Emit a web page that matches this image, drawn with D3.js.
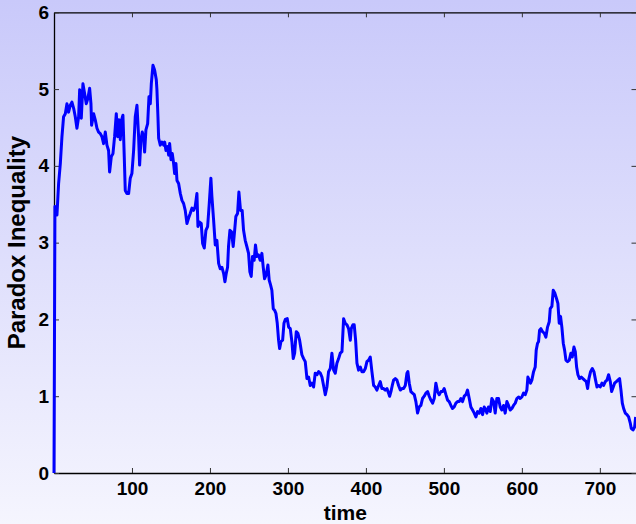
<!DOCTYPE html>
<html>
<head>
<meta charset="utf-8">
<script src="https://cdn.jsdelivr.net/npm/d3@7"></script>
<style>
  html, body { margin: 0; padding: 0; background: #ffffff; }
  svg { display: block; }
  text { font-family: "Liberation Sans", Arial, sans-serif; font-weight: bold; }
</style>
</head>
<body>
<div id="diagram_paradox"></div>
<script>
//****************************************************************************
//Data

const times = [0, 1.2, 3.8, 5.9, 8.1, 10.2, 12.3, 14.5, 16.6, 18.7, 20.9, 23.0, 25.2, 27.3, 29.4, 31.6, 32.9, 35.0, 37.1, 39.3,
  41.4, 43.5, 45.7, 47.4, 48.2, 50.8, 52.9, 55.1, 57.2, 59.4, 61.5, 63.6, 65.8, 67.9, 70.0, 71.3, 73.5, 75.6, 77.7, 79.9,
  81.6, 83.3, 85.0, 86.7, 88.4, 90.1, 91.4, 93.5, 95.7, 97.8, 99.9, 102.1, 104.2, 106.4, 108.5, 109.8, 111.5, 113.2, 114.9, 116.2,
  117.9, 120.1, 121.8, 123.5, 124.8, 126.9, 129.0, 131.2, 132.0, 133.3, 134.2, 136.3, 138.4, 140.6, 141.9, 143.6, 145.7, 147.0, 148.3, 150.0,
  151.7, 153.4, 154.7, 156.4, 157.7, 159.8, 162.0, 164.1, 166.2, 168.3, 170.5, 172.6, 174.7, 176.9, 179.0, 181.1, 183.3, 184.6, 186.3, 188.8,
  190.6, 192.7, 194.8, 197.0, 199.1, 201.2, 202.5, 204.7, 206.8, 208.9, 211.1, 213.2, 215.3, 217.5, 219.2, 220.9, 222.6, 223.8, 225.6, 227.7,
  229.8, 231.5, 233.2, 235.4, 237.1, 239.2, 241.3, 243.1, 245.2, 247.3, 249.5, 251.2, 252.9, 254.6, 256.7, 258.4, 260.2, 262.3, 264.4, 266.6,
  268.3, 270.0, 272.1, 274.3, 276.0, 277.7, 279.4, 281.2, 282.9, 284.6, 286.3, 288.0, 289.3, 291.0, 293.2, 294.9, 296.6, 299.1, 300.9, 303.0,
  305.1, 306.8, 308.6, 310.7, 312.8, 315.0, 317.9, 320.1, 322.2, 324.4, 326.5, 328.6, 330.8, 332.9, 335.0, 337.2, 339.3, 341.5, 343.6, 345.7,
  347.9, 350.0, 352.1, 354.3, 356.4, 358.6, 360.7, 362.8, 365.0, 367.1, 369.3, 371.4, 373.5, 375.7, 377.8, 380.0, 381.2, 383.3, 385.0, 386.8,
  388.5, 390.6, 392.8, 394.9, 397.0, 399.2, 401.3, 403.4, 405.6, 407.7, 409.9, 412.0, 414.1, 416.3, 418.4, 420.5, 422.7, 424.8, 427.0, 429.1,
  430.4, 432.1, 433.8, 435.5, 437.7, 439.8, 441.9, 444.1, 446.2, 448.3, 450.5, 452.6, 453.8, 455.6, 457.7, 459.8, 462.0, 464.1, 466.2, 468.4,
  470.5, 472.6, 474.8, 476.9, 479.1, 481.2, 483.3, 485.5, 487.6, 489.7, 491.9, 494.0, 496.2, 498.3, 500.4, 502.6, 504.7, 506.8, 509.0, 511.1,
  513.2, 515.4, 517.5, 519.7, 521.8, 523.9, 526.1, 528.2, 530.3, 532.5, 534.6, 536.8, 538.9, 541.0, 543.2, 545.3, 547.4, 549.6, 551.7, 553.0,
  555.1, 557.2, 559.4, 561.5, 563.7, 565.8, 567.9, 570.1, 572.2, 574.3, 576.5, 578.6, 580.8, 582.9, 585.0, 587.2, 589.3, 591.5, 593.6, 595.7,
  597.9, 600.0, 602.1, 604.3, 606.4, 607.7, 609.4, 611.1, 612.8, 615.0, 617.1, 618.4, 620.1, 621.4, 622.7, 624.4, 626.5, 628.7, 630.8, 632.9,
  635.1, 636.4, 638.5, 640.2, 642.4, 644.5, 646.2, 647.9, 649.6, 651.3, 653.1, 654.8, 656.5, 658.6, 660.8, 662.9, 664.6, 666.8, 668.5, 670.2,
  671.9, 674.0, 676.2, 678.3, 680.4, 682.6, 684.3, 686.0, 688.1, 690.3, 692.4, 694.5, 696.3, 698.4, 700.5, 702.7, 704.8, 707.0, 709.1, 711.2,
  713.4, 715.1, 717.2, 718.9, 721.1, 723.2, 725.3, 727.1, 728.8, 730.5, 732.6, 734.8, 736.9, 739.0, 740.3, 742.5, 744.6, 745.9]

const values = [0, 3.47, 3.36, 3.77, 4.03, 4.38, 4.64, 4.68, 4.81, 4.70, 4.79, 4.83, 4.75, 4.64, 4.49, 4.64, 4.99, 4.62, 5.07, 4.94,
  4.81, 4.88, 5.01, 4.81, 4.53, 4.68, 4.60, 4.49, 4.44, 4.42, 4.38, 4.29, 4.44, 4.27, 4.20, 3.92, 4.12, 4.16, 4.38, 4.68,
  4.38, 4.60, 4.34, 4.60, 4.66, 4.12, 3.68, 3.64, 3.64, 3.84, 3.90, 4.20, 4.64, 4.79, 4.38, 4.01, 4.34, 4.44, 4.38, 4.18,
  4.47, 4.55, 4.90, 4.81, 5.07, 5.31, 5.25, 5.12, 4.99, 4.64, 4.36, 4.27, 4.31, 4.27, 4.31, 4.20, 4.25, 4.14, 4.29, 4.08,
  4.16, 4.03, 3.90, 4.03, 3.81, 3.77, 3.64, 3.55, 3.51, 3.42, 3.25, 3.32, 3.38, 3.45, 3.42, 3.47, 3.64, 3.21, 3.27, 3.25,
  2.99, 2.93, 3.16, 3.21, 3.51, 3.84, 3.60, 3.29, 2.97, 3.03, 2.73, 2.66, 2.68, 2.60, 2.49, 2.60, 2.68, 2.95, 3.16, 3.14,
  2.95, 3.14, 3.34, 3.38, 3.66, 3.42, 3.42, 3.16, 3.03, 2.95, 2.86, 2.62, 2.56, 2.82, 2.77, 2.97, 2.82, 2.84, 2.77, 2.86,
  2.68, 2.53, 2.58, 2.71, 2.51, 2.45, 2.38, 2.14, 2.12, 2.08, 1.95, 1.73, 1.62, 1.71, 1.73, 1.95, 2.00, 2.01, 1.90, 1.88,
  1.71, 1.49, 1.56, 1.84, 1.82, 1.73, 1.54, 1.49, 1.45, 1.23, 1.25, 1.14, 1.17, 1.12, 1.30, 1.28, 1.32, 1.30, 1.25, 1.14,
  1.02, 1.12, 1.32, 1.36, 1.56, 1.34, 1.30, 1.43, 1.49, 1.56, 1.58, 2.01, 1.95, 1.93, 1.88, 1.73, 1.88, 1.93, 1.93, 1.73,
  1.43, 1.34, 1.38, 1.32, 1.32, 1.36, 1.45, 1.47, 1.51, 1.32, 1.14, 1.12, 1.08, 1.14, 1.19, 1.10, 1.10, 1.08, 1.10, 1.04,
  1.00, 1.06, 1.14, 1.21, 1.23, 1.21, 1.14, 1.08, 1.10, 1.10, 1.14, 1.30, 1.32, 1.17, 1.06, 1.04, 1.02, 0.93, 0.78, 0.86,
  0.88, 0.97, 1.00, 1.04, 1.06, 1.00, 0.95, 0.91, 0.97, 1.17, 1.06, 1.02, 1.06, 1.06, 1.10, 1.02, 0.95, 0.93, 0.88, 0.84,
  0.86, 0.91, 0.93, 0.93, 0.97, 0.93, 1.00, 1.02, 1.08, 0.97, 0.86, 0.82, 0.78, 0.73, 0.80, 0.78, 0.84, 0.76, 0.86, 0.84,
  0.78, 0.86, 0.80, 0.97, 0.93, 0.78, 0.97, 0.97, 0.86, 0.82, 0.88, 0.78, 0.93, 0.88, 0.82, 0.84, 0.88, 0.91, 0.97, 0.99,
  0.97, 0.99, 1.04, 1.02, 1.08, 1.25, 1.21, 1.17, 1.21, 1.32, 1.38, 1.60, 1.69, 1.71, 1.86, 1.88, 1.84, 1.82, 1.77, 1.90,
  1.97, 2.14, 2.17, 2.38, 2.34, 2.27, 2.21, 1.95, 2.04, 1.90, 1.69, 1.60, 1.47, 1.45, 1.47, 1.56, 1.51, 1.64, 1.58, 1.38,
  1.28, 1.23, 1.25, 1.23, 1.21, 1.19, 1.10, 1.23, 1.32, 1.36, 1.32, 1.21, 1.12, 1.14, 1.12, 1.17, 1.14, 1.19, 1.21, 1.28,
  1.19, 1.06, 1.12, 1.17, 1.19, 1.21, 1.23, 1.08, 0.91, 0.84, 0.78, 0.76, 0.73, 0.65, 0.58, 0.56, 0.60, 0.73]

const xTicks = [100, 200, 300, 400, 500, 600, 700]
const yTicks = [0, 1, 2, 3, 4, 5, 6]
const xDomain = [0, 747]
const yDomain = [0, 6]

//****************************************************************************
//Chart (svg)

const canvWidth = 636;
const canvHeight = 524;
const plot = {left: 54, right: 636.5, top: 12.3, bottom: 473};

const svg = d3.select("#diagram_paradox").append("svg")
  .attr("width", canvWidth)
  .attr("height", canvHeight);

//background gradient (whole figure)
const defs = svg.append("defs");
const grad = defs.append("linearGradient")
  .attr("id", "bgGrad")
  .attr("x1", 0).attr("y1", 0).attr("x2", 0).attr("y2", 1);
grad.append("stop").attr("offset", "0%").attr("stop-color", "#c9c9fa");
grad.append("stop").attr("offset", "100%").attr("stop-color", "#f5f5fe");

svg.append("rect")
  .attr("width", canvWidth).attr("height", canvHeight)
  .style("fill", "url(#bgGrad)");

//**************************************************************************
//Scales

const xScale = d3.scaleLinear().domain(xDomain).range([plot.left, plot.right]);
const yScale = d3.scaleLinear().domain(yDomain).range([plot.bottom, plot.top]);

//**************************************************************************
//Axes (ticks inwards, box on all four sides)

const tickLen = 5;
const fmt = d3.format("d");

const gx = svg.append("g")
  .attr("transform", `translate(0,${plot.bottom})`)
  .call(d3.axisBottom(xScale).tickValues(xTicks).tickFormat(fmt).tickSizeInner(-tickLen).tickSizeOuter(0).tickPadding(9));

const gxTop = svg.append("g")
  .attr("transform", `translate(0,${plot.top})`)
  .call(d3.axisTop(xScale).tickValues(xTicks).tickSizeInner(-tickLen).tickSizeOuter(0).tickFormat(""));

const gy = svg.append("g")
  .attr("transform", `translate(${plot.left},0)`)
  .call(d3.axisLeft(yScale).tickValues(yTicks).tickFormat(fmt).tickSizeInner(-tickLen).tickSizeOuter(0).tickPadding(5));

const gyRight = svg.append("g")
  .attr("transform", `translate(${plot.right},0)`)
  .call(d3.axisRight(yScale).tickValues(yTicks).tickSizeInner(-tickLen).tickSizeOuter(0).tickFormat(""));

[gx, gxTop, gy, gyRight].forEach(g => {
  g.select(".domain").attr("stroke", "#000").attr("stroke-width", 1.3);
  g.selectAll(".tick line").attr("stroke", "#333").attr("stroke-width", 1);
  g.selectAll(".tick text")
    .attr("fill", "#000")
    .style("font-size", "19px")
    .style("font-weight", "bold");
});

//**************************************************************************
//Line

const line = d3.line()
  .x((d, i) => xScale(times[i]))
  .y(d => yScale(d));

svg.append("path")
  .datum(values)
  .attr("d", line)
  .attr("fill", "none")
  .attr("stroke", "#0000ff")
  .attr("stroke-width", 3)
  .attr("stroke-linejoin", "round");

//**************************************************************************
//Labels

svg.append("text")
  .attr("x", (plot.left + plot.right) / 2)
  .attr("y", 519.5)
  .style("text-anchor", "middle")
  .style("font-size", "21px")
  .text("time");

svg.append("text")
  .attr("transform", `translate(25,${(plot.top + plot.bottom) / 2}) rotate(-90)`)
  .style("text-anchor", "middle")
  .style("font-size", "24px")
  .text("Paradox Inequality");
</script>
</body>
</html>
